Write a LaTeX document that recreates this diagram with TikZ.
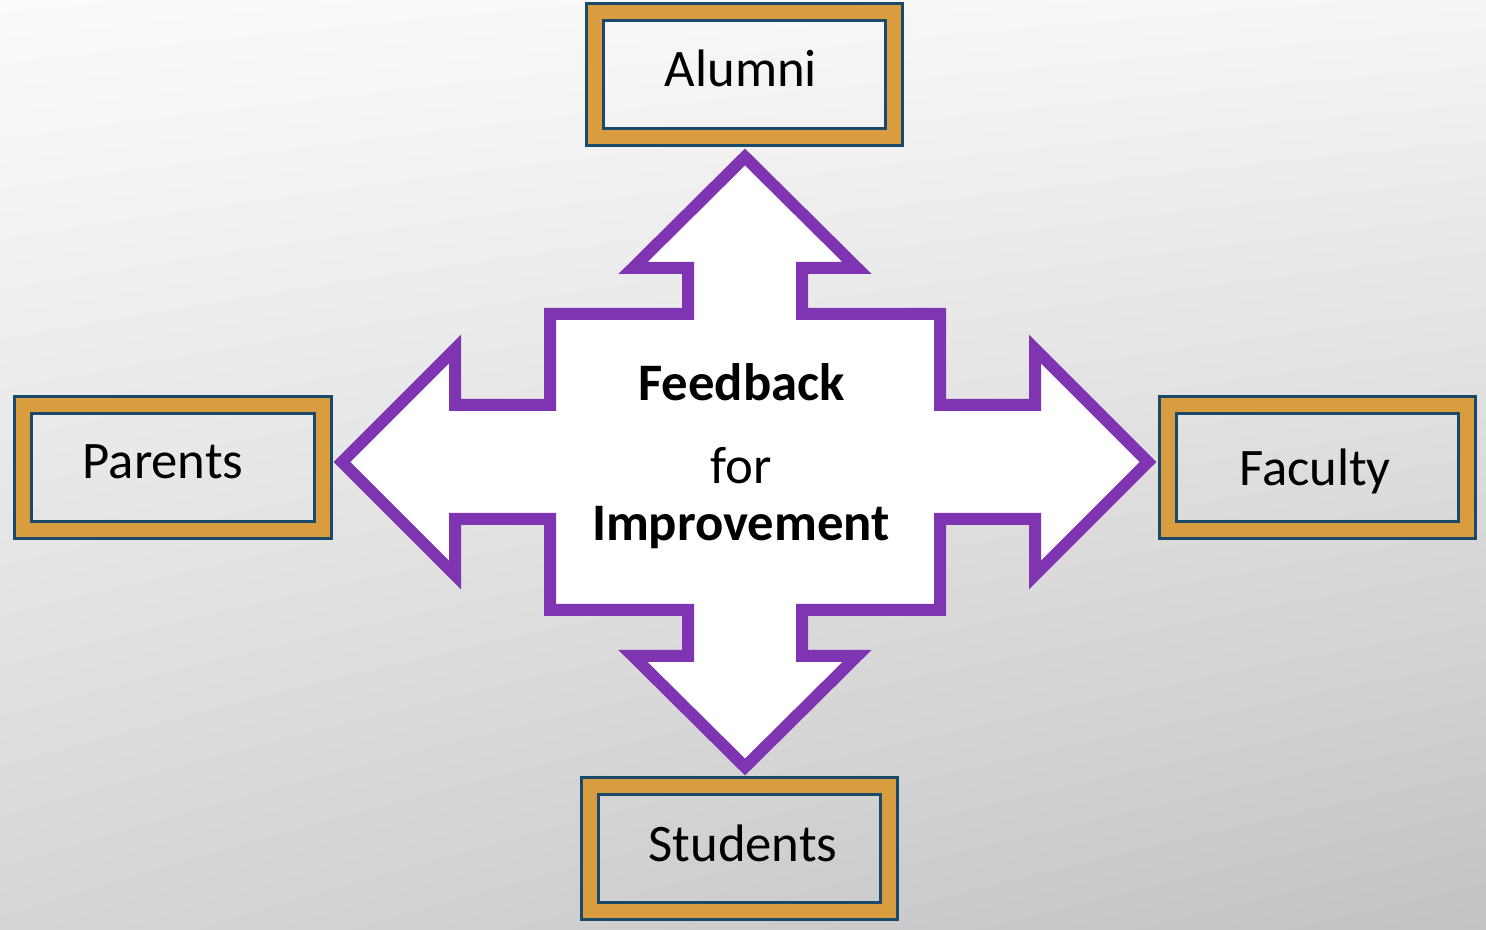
\documentclass[tikz,border=0pt]{standalone}
\usepackage{fontspec}
\setmainfont{Carlito}
\usetikzlibrary{positioning,shadings}

\definecolor{crosspurple}{HTML}{7F34B2}
\definecolor{frameorange}{HTML}{D99D40}
\definecolor{framenavy}{HTML}{1A4A6A}
\definecolor{backUL}{HTML}{FBFBFB}
\definecolor{backUR}{HTML}{F5F5F5}
\definecolor{backLL}{HTML}{D6D6D6}
\definecolor{backLR}{HTML}{C3C3C3}

\begin{document}
\begin{tikzpicture}[
  group/.style={draw=framenavy, line width=0.03cm, double=frameorange,
    double distance=0.14cm, minimum width=2.99cm, minimum height=1.25cm,
    inner sep=0pt},
  bodytext/.style={anchor=base, inner sep=0pt, font=\fontsize{15}{18}\selectfont}]
  % backdrop
  \shade[upper left=backUL, upper right=backUR,
         lower left=backLL, lower right=backLR]
    (0,0) rectangle (14.86,9.29);

  % four-way arrow
  \draw[crosspurple, line width=0.12cm, fill=white, shift={(7.45,4.67)}]
    (0,3.05) -- (1.12,1.94) -- (0.57,1.94) -- (0.57,1.48) -- (1.95,1.48)
    -- (1.95,0.57) -- (2.90,0.57) -- (2.90,1.13) -- (4.03,0)
    -- (2.90,-1.13) -- (2.90,-0.57) -- (1.95,-0.57) -- (1.95,-1.48)
    -- (0.57,-1.48) -- (0.57,-1.94) -- (1.12,-1.94) -- (0,-3.05)
    -- (-1.12,-1.94) -- (-0.57,-1.94) -- (-0.57,-1.48) -- (-1.95,-1.48)
    -- (-1.95,-0.57) -- (-2.90,-0.57) -- (-2.90,-1.13) -- (-4.03,0)
    -- (-2.90,1.13) -- (-2.90,0.57) -- (-1.95,0.57) -- (-1.95,1.48)
    -- (-0.57,1.48) -- (-0.57,1.94) -- (-1.12,1.94) -- cycle;

  \node[bodytext] (feedback) at (7.415,5.28) {\bfseries Feedback};
  \node[bodytext] (for) at (7.41,4.45) {for};
  \node[bodytext] (improve) at (7.41,3.88) {\bfseries Improvement};

  % the four groups
  \node[group] (alumni) at (7.44,8.545) {};
  \node[group] (parents) at (1.73,4.61) {};
  \node[group] (faculty) at (13.17,4.61) {};
  \node[group] (students) at (7.395,0.81) {};

  \node[bodytext] (alumnitext) at (7.41,8.42) {Alumni};
  \node[bodytext] (parentstext) at (1.63,4.50) {Parents};
  \node[bodytext] (facultytext) at (13.15,4.43) {Faculty};
  \node[bodytext] (studentstext) at (7.43,0.68) {Students};
\end{tikzpicture}
\end{document}
